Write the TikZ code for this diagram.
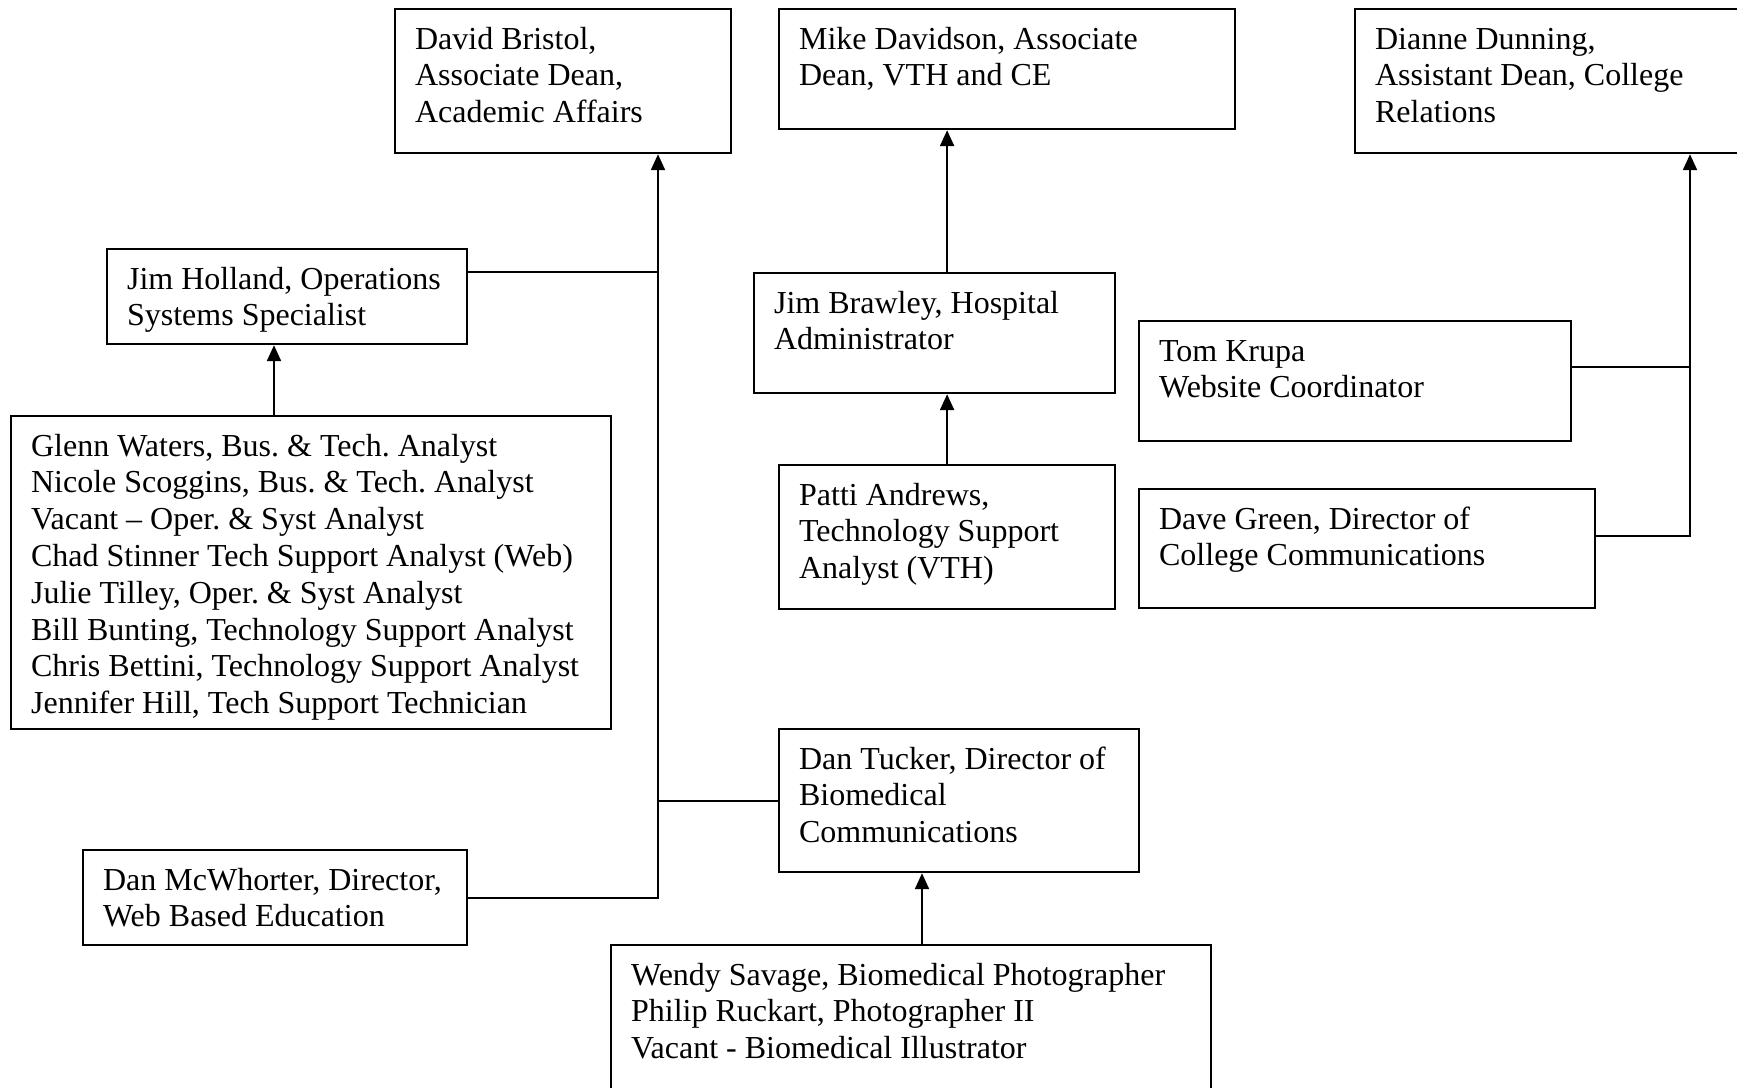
\documentclass[tikz,border=0pt]{standalone}
\usepackage{fontspec}
\setmainfont{Liberation Serif}
\usetikzlibrary{arrows.meta}
\frenchspacing
\newcommand\tb[3]{\parbox[c][#2pt][t]{#1pt}{\frenchspacing\raggedright\leftskip=20pt\rule{0pt}{40pt}#3}}
\begin{document}
\begin{tikzpicture}[x=1pt,y=-1pt,
  box/.style={draw=black, line width=2.2pt, inner sep=0pt, anchor=north west,
    font=\fontsize{32pt}{36.8pt}\selectfont},
  conn/.style={draw=black, line width=2.2pt},
  arr/.style={conn, -{Triangle[length=16pt,width=14pt]}}]
\fill[white] (0,0) rectangle (1737,1087);
\useasboundingbox (0,0) rectangle (1737,1087);
\clip (0,0) rectangle (1737,1087);

% top row
\node[box] (bristol) at (394,8) {\tb{336}{144}{David Bristol,\\Associate Dean,\\Academic Affairs}};
\node[box] (davidson) at (778,8) {\tb{456}{120}{Mike Davidson, Associate\\Dean, VTH and CE}};
\node[box] (dunning) at (1354,8) {\tb{430}{144}{Dianne Dunning,\\Assistant Dean, College\\Relations}};

% left branch
\node[box] (holland) at (106,248) {\tb{360}{95}{Jim Holland, Operations\\Systems Specialist}};
\node[box] (staff) at (10,415) {\tb{600}{313}{Glenn Waters, Bus. \& Tech. Analyst\\Nicole Scoggins, Bus. \& Tech. Analyst\\Vacant – Oper. \& Syst Analyst\\Chad Stinner Tech Support Analyst (Web)\\Julie Tilley, Oper. \& Syst Analyst\\Bill Bunting, Technology Support Analyst\\Chris Bettini, Technology Support Analyst\\Jennifer Hill, Tech Support Technician}};
\node[box] (mcw) at (82,849) {\tb{384}{95}{Dan McWhorter, Director,\\Web Based Education}};
\node[box] (tucker) at (778,728) {\tb{360}{143}{Dan Tucker, Director of\\Biomedical\\Communications}};
\node[box] (wendy) at (610,944) {\tb{600}{180}{Wendy Savage, Biomedical Photographer\\Philip Ruckart, Photographer II\\Vacant - Biomedical Illustrator}};

% middle branch
\node[box] (brawley) at (753,272) {\tb{361}{120}{Jim Brawley, Hospital\\Administrator}};
\node[box] (patti) at (778,464) {\tb{336}{144}{Patti Andrews,\\Technology Support\\Analyst (VTH)}};

% right branch
\node[box] (krupa) at (1138,320) {\tb{432}{120}{Tom Krupa\\Website Coordinator}};
\node[box] (green) at (1138,488) {\tb{456}{119}{Dave Green, Director of\\College Communications}};

% connectors: Bristol bus
\coordinate (bristolIn) at ([xshift=264pt]bristol.south west);
\draw[arr] (mcw.east) -| (bristolIn);
\draw[conn] ([yshift=-24pt]holland.north east) -- ([yshift=-24pt]holland.north east -| bristolIn);
\draw[conn] (tucker.west) -- (tucker.west -| bristolIn);
\draw[arr] ([xshift=264pt]staff.north west) -- ([xshift=264pt]staff.north west |- holland.south);
\draw[arr] ([xshift=312pt]wendy.north west) -- ([xshift=312pt]wendy.north west |- tucker.south);

% middle
\draw[arr] (patti.north) -- (patti.north |- brawley.south);
\draw[arr] (patti.north |- brawley.north) -- (patti.north |- davidson.south);

% right bus
\coordinate (dunIn) at ([xshift=336pt]dunning.south west);
\draw[arr] ([yshift=-48pt]green.north east) -| (dunIn);
\draw[conn] ([yshift=-47pt]krupa.north east) -- ([yshift=-47pt]krupa.north east -| dunIn);
\end{tikzpicture}
\end{document}
